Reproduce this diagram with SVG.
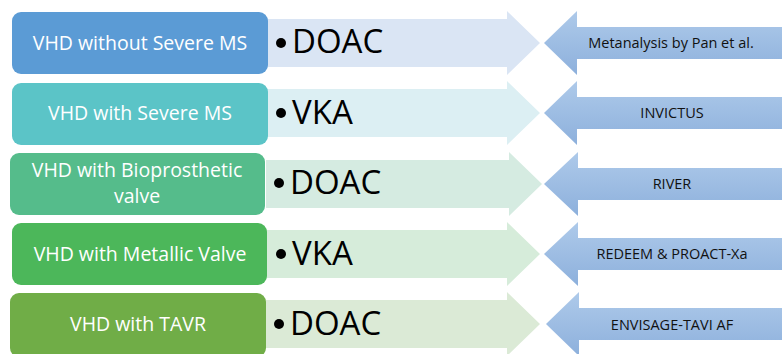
<svg xmlns="http://www.w3.org/2000/svg" width="782" height="354" viewBox="0 0 782 354">
<defs>
<linearGradient id="dg" x1="0" y1="0" x2="0" y2="1">
<stop offset="0" stop-color="#AECAEA"/>
<stop offset="1" stop-color="#8DB0DC"/>
</linearGradient>
<style>
.box{rx:9;ry:9}
.bt{font-family:"Open Sans","Liberation Sans",sans-serif;font-size:19.5px;fill:#FFFFFF;text-anchor:middle}
.big{font-family:"Open Sans","Liberation Sans",sans-serif;font-size:33px;fill:#000000}
.rt{font-family:"Open Sans","Liberation Sans",sans-serif;font-size:14.5px;fill:#111111;text-anchor:middle}
.dark{fill:url(#dg)}
</style>
</defs>
<rect width="782" height="354" fill="#FFFFFF"/>
<g id="connectors">
<polygon fill="#DAE5F4" points="266,19 507,19 507,11 540,43 507,75 507,67 266,67"/>
<polygon fill="#DCEFF3" points="266,89 507,89 507,81 540,113 507,145 507,137 266,137"/>
<polygon fill="#D5EBE1" points="266,160 509,160 509,152 542,184 509,216 509,208 266,208"/>
<polygon fill="#D6ECDA" points="266,230 507,230 507,222 540,254 507,286 507,278 266,278"/>
<polygon fill="#DBEAD6" points="266,300 507,300 507,292 540,324 507,356 507,348 266,348"/>
<polygon class="dark" points="544,43 577,11 577,27 782,27 782,59 577,59 577,75"/>
<polygon class="dark" points="544,113 577,81 577,97 782,97 782,129 577,129 577,145"/>
<polygon class="dark" points="544,184 578,152 578,168 782,168 782,200 578,200 578,216"/>
<polygon class="dark" points="544,254 578,222 578,238 782,238 782,270 578,270 578,286"/>
<polygon class="dark" points="546,324 579,292 579,308 782,308 782,340 579,340 579,356"/>
</g>
<g id="row1">
<rect class="box" x="12" y="12" width="256" height="62" fill="#5B9BD5"/>
<text class="bt" x="140" y="50">VHD without Severe MS</text>
<circle cx="281" cy="43" r="5"/>
<text class="big" x="292" y="53">DOAC</text>
<text class="rt" x="671" y="48">Metanalysis by Pan et al.</text>
</g>
<g id="row2">
<rect class="box" x="12" y="83" width="256" height="62" fill="#5BC4C7"/>
<text class="bt" x="140" y="120">VHD with Severe MS</text>
<circle cx="281" cy="113" r="5"/>
<text class="big" x="292" y="124">VKA</text>
<text class="rt" x="672" y="118">INVICTUS</text>
</g>
<g id="row3">
<rect class="box" x="10" y="153" width="255" height="62" fill="#55BC8B"/>
<text class="bt" x="137" y="177">VHD with Bioprosthetic</text>
<text class="bt" x="137" y="203">valve</text>
<circle cx="279" cy="183" r="5"/>
<text class="big" x="290" y="194">DOAC</text>
<text class="rt" x="672" y="189">RIVER</text>
</g>
<g id="row4">
<rect class="box" x="12" y="223" width="255" height="62" fill="#4CB75A"/>
<text class="bt" x="140" y="261">VHD with Metallic Valve</text>
<circle cx="281" cy="254" r="5"/>
<text class="big" x="292" y="265">VKA</text>
<text class="rt" x="672" y="259">REDEEM &amp; PROACT-Xa</text>
</g>
<g id="row5">
<rect class="box" x="10" y="293" width="256" height="64" fill="#70AD47"/>
<text class="bt" x="138" y="331">VHD with TAVR</text>
<circle cx="279" cy="324" r="5"/>
<text class="big" x="290" y="335">DOAC</text>
<text class="rt" x="672" y="330">ENVISAGE-TAVI AF</text>
</g>
</svg>
